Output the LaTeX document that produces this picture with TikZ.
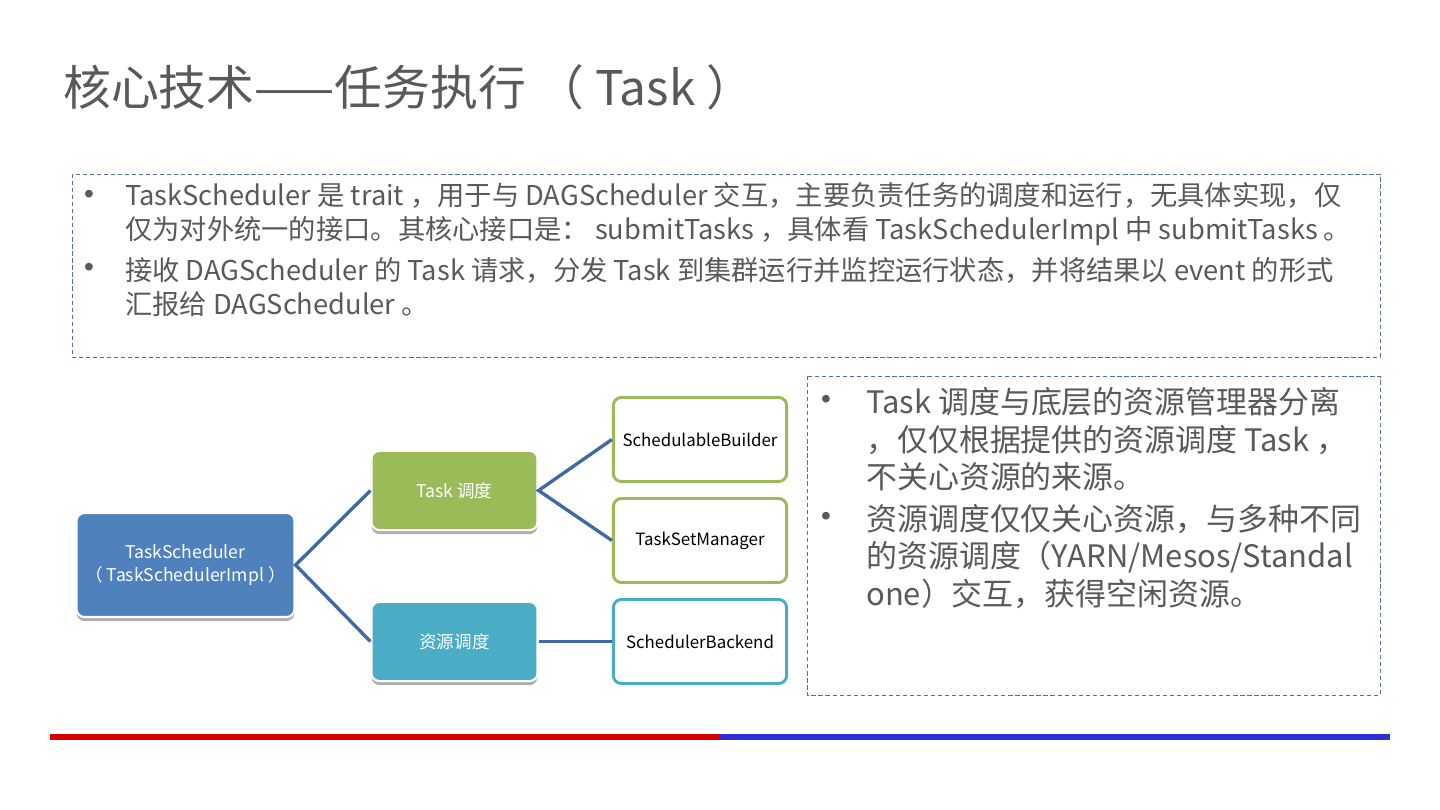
\documentclass[tikz,border=0pt]{standalone}
\usepackage{fontspec}
\setmainfont{Noto Sans CJK SC}
\newfontfamily\bulletfont{Liberation Sans}
\usetikzlibrary{shadows}
\definecolor{txtgray}{RGB}{89,89,89}
\definecolor{schedblue}{RGB}{79,129,189}
\definecolor{taskgreen}{RGB}{155,187,89}
\definecolor{resteal}{RGB}{75,172,198}
\definecolor{linkblue}{RGB}{65,105,165}
\definecolor{frameblue}{RGB}{80,110,175}
\definecolor{barred}{RGB}{214,0,0}
\definecolor{barblue}{RGB}{46,46,214}

\begin{document}
\begin{tikzpicture}[x=0.025cm, y=-0.025cm,
  fillbox/.style={rounded corners=0.2cm, draw=white, line width=1.5pt, text=white, align=center,
    font=\fontsize{12.5}{17}\selectfont,
    drop shadow={shadow xshift=0pt, shadow yshift=-0.1cm, fill=black!45, opacity=0.7}},
  outbox/.style={rounded corners=0.2cm, draw, line width=2.1pt, fill=white,
    minimum width=4.33cm, minimum height=2.1cm, font=\fontsize{12}{14}\selectfont},
  link/.style={linkblue, line width=2.4pt},
  frame/.style={frameblue, line width=0.6pt, densely dashed},
  bodytxt/.style={anchor=west, align=left, text=txtgray, inner sep=0pt},
  dot/.style={anchor=center, text=txtgray, inner sep=0pt, font=\bulletfont\fontsize{20}{20}\selectfont},
]
\useasboundingbox (0,0) rectangle (1440,809);

% title
\node[anchor=west, text=txtgray, inner sep=0pt, font=\fontsize{34}{40}\selectfont] (title) at (63,87)
  {核心技术——任务执行 （ Task ）};

% upper text box
\draw[frame] (72,174) rectangle (1380,357);
\node[dot] (b1) at (89,197) {•};
\node[bodytxt, font=\fontsize{19.4}{24}\selectfont] (p1) at (125,214)
  {TaskScheduler 是 trait ，用于与 DAGScheduler 交互，主要负责任务的调度和运行，无具体实现，仅\\
   仅为对外统一的接口。其核心接口是： submitTasks ，具体看 TaskSchedulerImpl 中 submitTasks 。};
\node[dot] (b2) at (89,270) {•};
\node[bodytxt, font=\fontsize{19.4}{24}\selectfont] (p2) at (125,287)
  {接收 DAGScheduler 的 Task 请求，分发 Task 到集群运行并监控运行状态，并将结果以 event 的形式\\
   汇报给 DAGScheduler 。};

% diagram
\node[fillbox, fill=schedblue, minimum width=5.45cm, minimum height=2.6cm] (sched) at (185.5,565)
  {TaskScheduler\\（ TaskSchedulerImpl ）};
\node[fillbox, fill=taskgreen, minimum width=4.15cm, minimum height=1.98cm] (taskdisp) at (454.5,490.5)
  {Task 调度};
\node[fillbox, fill=resteal, minimum width=4.15cm, minimum height=1.98cm] (resdisp) at (454.5,641.5)
  {资源调度};
\node[outbox, draw=taskgreen] (builder) at (700,439.5) {SchedulableBuilder};
\node[outbox, draw=taskgreen] (setmgr) at (700,540.5) {TaskSetManager};
\node[outbox, draw=resteal] (backend) at (700,641.5) {SchedulerBackend};

\draw[link] (taskdisp.west) -- (sched.east) -- (resdisp.west);
\draw[link] (builder.west) -- (taskdisp.east) -- (setmgr.west);
\draw[link] (resdisp.east) -- (backend.west);

% right text box
\draw[frame] (807,376) rectangle (1380,695);
\node[dot] (b3) at (826,402) {•};
\node[bodytxt, font=\fontsize{22}{26.6}\selectfont] (p3) at (866,439.5)
  {Task 调度与底层的资源管理器分离\\
   ，仅仅根据提供的资源调度 Task ，\\
   不关心资源的来源。};
\node[dot] (b4) at (826,519) {•};
\node[bodytxt, font=\fontsize{22}{26.6}\selectfont] (p4) at (866,556.5)
  {资源调度仅仅关心资源，与多种不同\\
   的资源调度（YARN/Mesos/Standal\\
   one）交互，获得空闲资源。};

% bottom bar
\fill[barred] (50,734) rectangle (720,740);
\fill[barblue] (720,734) rectangle (1390,740);
\end{tikzpicture}
\end{document}
